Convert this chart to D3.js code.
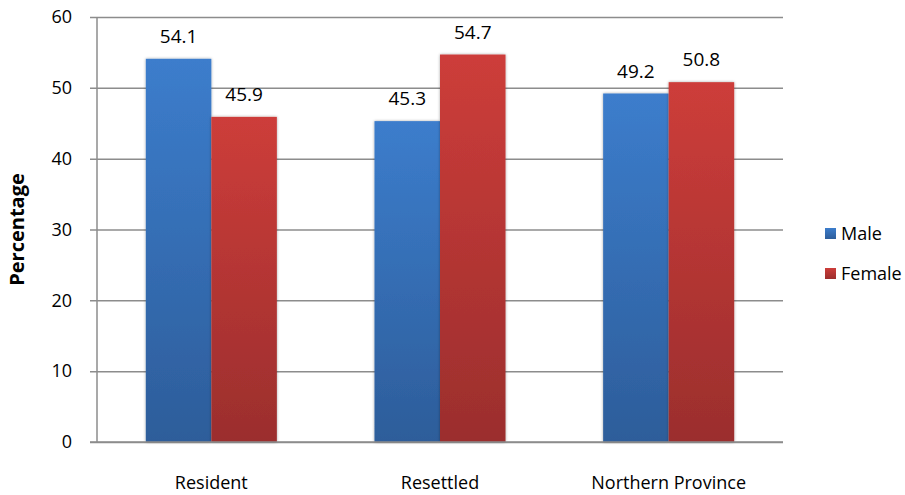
<!DOCTYPE html>
<html>
<head>
<meta charset="utf-8">
<script src="https://cdn.jsdelivr.net/npm/d3@7"></script>
<style>
  html, body { margin: 0; padding: 0; background: #fff; }
  svg { display: block; font-family: "Open Sans", "DejaVu Sans", sans-serif; }
</style>
</head>
<body>
<svg id="chart" width="905" height="495"></svg>
<script>
// Population share by sex for each area
const categories = ["Resident", "Resettled", "Northern Province"];
const seriesNames = ["Male", "Female"];
const maleValues = [54.1, 45.3, 49.2];
const femaleValues = [45.9, 54.7, 50.8];
const yTicks = [0, 10, 20, 30, 40, 50, 60];

const seriesValues = [maleValues, femaleValues];
const colors = {
  Male: { top: "#3c7dcc", bottom: "#2d5d9a" },
  Female: { top: "#cd3d3a", bottom: "#9b2e2d" }
};

const svg = d3.select("#chart");
const margin = { left: 97, right: 122, top: 17, bottom: 53 };
const width = 905, height = 495;

const x0 = d3.scaleBand()
  .domain(categories)
  .range([margin.left, width - margin.right])
  .paddingInner(0.427)
  .paddingOuter(0.2135);

const x1 = d3.scaleBand()
  .domain(seriesNames)
  .range([0, x0.bandwidth()]);

const y = d3.scaleLinear()
  .domain([0, 60])
  .range([height - margin.bottom, margin.top]);

// Gradients and soft shadow
const defs = svg.append("defs");
seriesNames.forEach(name => {
  const g = defs.append("linearGradient")
    .attr("id", "grad-" + name)
    .attr("x1", 0).attr("y1", 0).attr("x2", 0).attr("y2", 1);
  g.append("stop").attr("offset", "0%").attr("stop-color", colors[name].top);
  g.append("stop").attr("offset", "100%").attr("stop-color", colors[name].bottom);
});
const shadow = defs.append("filter").attr("id", "shadow")
  .attr("x", "-10%").attr("y", "-10%").attr("width", "120%").attr("height", "120%");
shadow.append("feGaussianBlur").attr("in", "SourceAlpha").attr("stdDeviation", 1.5).attr("result", "b");
shadow.append("feComponentTransfer").attr("in", "b").attr("result", "b2")
  .append("feFuncA").attr("type", "linear").attr("slope", 0.35);
const merge = shadow.append("feMerge");
merge.append("feMergeNode").attr("in", "b2");
merge.append("feMergeNode").attr("in", "SourceGraphic");

// Gridlines and axis ticks
const yAxis = d3.axisLeft(y)
  .tickValues(yTicks)
  .tickSize(-(width - margin.right - margin.left))
  .tickPadding(25)
  .tickFormat(d3.format("d"));

const gy = svg.append("g")
  .attr("transform", `translate(${margin.left},0)`)
  .call(yAxis);
gy.select(".domain").remove();
gy.selectAll(".tick line")
  .attr("x1", -7)
  .attr("stroke", "#8c8c8c")
  .attr("stroke-width", 1.5);
gy.selectAll(".tick text")
  .attr("fill", "#000")
  .attr("font-size", 18)
  .attr("font-family", "\"Open Sans\", sans-serif");

// Vertical axis line
svg.append("line")
  .attr("x1", margin.left).attr("x2", margin.left)
  .attr("y1", y(60)).attr("y2", y(0))
  .attr("stroke", "#8c8c8c").attr("stroke-width", 1.5);

// Bars
const groups = svg.append("g").selectAll("g")
  .data(categories)
  .join("g")
  .attr("transform", d => `translate(${x0(d)},0)`);

groups.selectAll("rect")
  .data((d, i) => seriesNames.map((s, k) => ({ s, v: seriesValues[k][i] })))
  .join("rect")
  .attr("x", d => x1(d.s))
  .attr("y", d => y(d.v))
  .attr("width", x1.bandwidth())
  .attr("height", d => y(0) - y(d.v))
  .attr("fill", d => `url(#grad-${d.s})`)
  .attr("filter", "url(#shadow)");

// Value labels
groups.selectAll("text.val")
  .data((d, i) => seriesNames.map((s, k) => ({ s, v: seriesValues[k][i] })))
  .join("text")
  .attr("class", "val")
  .attr("x", d => x1(d.s) + x1.bandwidth() / 2)
  .attr("y", d => y(d.v) - 16)
  .attr("text-anchor", "middle")
  .attr("font-size", 19)
  .attr("fill", "#000")
  .text(d => d.v.toFixed(1));

// Baseline
svg.append("line")
  .attr("x1", margin.left - 7).attr("x2", width - margin.right)
  .attr("y1", y(0)).attr("y2", y(0))
  .attr("stroke", "#8c8c8c").attr("stroke-width", 1.5);

// Category labels
svg.append("g").selectAll("text")
  .data(categories)
  .join("text")
  .attr("x", d => x0(d) + x0.bandwidth() / 2)
  .attr("y", 489)
  .attr("text-anchor", "middle")
  .attr("font-size", 18)
  .attr("fill", "#000")
  .text(d => d);

// Y axis title
svg.append("text")
  .attr("transform", `translate(24,${(y(0) + y(60)) / 2}) rotate(-90)`)
  .attr("text-anchor", "middle")
  .attr("font-size", 20)
  .attr("font-weight", "bold")
  .attr("fill", "#000")
  .text("Percentage");

// Legend
const legend = svg.append("g").selectAll("g")
  .data(seriesNames)
  .join("g")
  .attr("transform", (d, i) => `translate(825,${228 + i * 40})`);
legend.append("rect")
  .attr("width", 11).attr("height", 11)
  .attr("fill", d => `url(#grad-${d})`);
legend.append("text")
  .attr("x", 16).attr("y", 12)
  .attr("font-size", 18)
  .attr("fill", "#000")
  .text(d => d);
</script>
</body>
</html>
